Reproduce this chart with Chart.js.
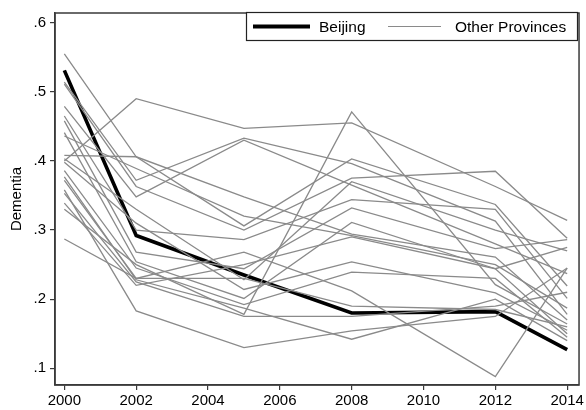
<!DOCTYPE html>
<html>
<head>
<meta charset="utf-8">
<script src="https://cdn.jsdelivr.net/npm/chart.js@4"></script>
<style>
  html, body { margin: 0; padding: 0; background: #fff; }
  #wrap { width: 586px; height: 410px; }
</style>
</head>
<body>
<div id="wrap"><canvas id="chart"></canvas></div>
<script>
// survey waves
const years = [2000, 2002, 2005, 2008, 2012, 2014];
const xTicks = [2000, 2002, 2004, 2006, 2008, 2010, 2012, 2014];
const yTicks = [0.1, 0.2, 0.3, 0.4, 0.5, 0.6];

const beijing = [0.531, 0.292, 0.235, 0.180, 0.182, 0.127];

// one row per province, values at each wave
const otherProvinces = [
  [0.400, 0.490, 0.447, 0.455, 0.363, 0.314],
  [0.330, 0.250, 0.178, 0.471, 0.221, 0.164],
  [0.372, 0.230, 0.268, 0.212, 0.088, 0.245],
  [0.555, 0.406, 0.306, 0.403, 0.337, 0.219],
  [0.514, 0.372, 0.433, 0.396, 0.313, 0.178],
  [0.511, 0.363, 0.300, 0.375, 0.385, 0.288],
  [0.479, 0.348, 0.430, 0.365, 0.280, 0.237],
  [0.465, 0.300, 0.286, 0.344, 0.330, 0.201],
  [0.458, 0.268, 0.244, 0.332, 0.273, 0.286],
  [0.441, 0.254, 0.201, 0.311, 0.244, 0.150],
  [0.408, 0.406, 0.348, 0.294, 0.261, 0.170],
  [0.436, 0.389, 0.320, 0.292, 0.250, 0.187],
  [0.403, 0.330, 0.228, 0.370, 0.300, 0.270],
  [0.398, 0.310, 0.214, 0.254, 0.209, 0.155],
  [0.386, 0.245, 0.192, 0.239, 0.230, 0.145],
  [0.377, 0.228, 0.187, 0.142, 0.200, 0.140],
  [0.287, 0.230, 0.230, 0.190, 0.185, 0.160],
  [0.353, 0.225, 0.175, 0.175, 0.190, 0.210],
  [0.339, 0.220, 0.250, 0.290, 0.244, 0.275],
  [0.358, 0.183, 0.130, 0.154, 0.175, 0.245],
];

const FONT = "'Liberation Sans', Arial, sans-serif";
const GREY = "#8a8a8a";
const FRAME = "#3a3a3a";

const toPoints = (vals) => vals.map((v, i) => ({ x: years[i], y: v }));

const datasets = otherProvinces.map((row) => ({
  label: "Other Provinces",
  data: toPoints(row),
  borderColor: GREY,
  borderWidth: 1.3,
  pointRadius: 0,
  tension: 0,
}));
datasets.push({
  label: "Beijing",
  data: toPoints(beijing),
  borderColor: "#000",
  borderWidth: 3.6,
  pointRadius: 0,
  tension: 0,
});

// frame round the plot region + Stata style legend box
const framePlugin = {
  id: "frame",
  beforeDraw(chart) {
    const c = chart.ctx;
    c.save();
    c.fillStyle = "#fff";
    c.fillRect(0, 0, chart.width, chart.height);
    c.restore();
  },
  afterDraw(chart) {
    const c = chart.ctx;
    const a = chart.chartArea;
    c.save();
    c.strokeStyle = FRAME;
    c.lineWidth = 1.5;
    c.strokeRect(a.left, a.top, a.right - a.left, a.bottom - a.top);

    // legend
    c.fillStyle = "#fff";
    c.fillRect(246.5, 12.5, 331, 28);
    c.strokeStyle = "#222";
    c.lineWidth = 1.2;
    c.strokeRect(246.5, 12.5, 331, 28);

    const ly = 26.5;
    c.beginPath();
    c.strokeStyle = "#000";
    c.lineWidth = 4;
    c.moveTo(253, ly);
    c.lineTo(310, ly);
    c.stroke();

    c.beginPath();
    c.strokeStyle = GREY;
    c.lineWidth = 1.2;
    c.moveTo(388, ly);
    c.lineTo(441, ly);
    c.stroke();

    c.fillStyle = "#000";
    c.font = "15.5px " + FONT;
    c.textBaseline = "middle";
    c.fillText("Beijing", 319, ly + 1);
    c.fillText("Other Provinces", 455, ly + 1);
    c.restore();
  },
};

new Chart(document.getElementById("chart"), {
  type: "line",
  data: { datasets },
  options: {
    responsive: true,
    maintainAspectRatio: false,
    animation: false,
    layout: { padding: { top: 7, right: 6, left: 0, bottom: 0 } },
    plugins: { legend: { display: false }, tooltip: { enabled: false } },
    scales: {
      x: {
        type: "linear",
        min: 1999.74,
        max: 2014.33,
        afterBuildTicks: (s) => { s.ticks = xTicks.map((v) => ({ value: v })); },
        afterFit: (s) => { s.height = 25; },
        grid: { drawOnChartArea: false, drawTicks: true, tickLength: 5, color: FRAME, lineWidth: 1.2 },
        border: { display: true, color: FRAME, width: 1.5 },
        ticks: {
          color: "#000",
          font: { family: FONT, size: 15 },
          padding: 2,
          maxRotation: 0,
          autoSkip: false,
          callback: (v) => String(v),
        },
      },
      y: {
        min: 0.0758,
        max: 0.614,
        afterBuildTicks: (s) => { s.ticks = yTicks.map((v) => ({ value: v })); },
        afterFit: (s) => { s.width = 55; },
        grid: { drawOnChartArea: false, drawTicks: true, tickLength: 5, color: FRAME, lineWidth: 1.2 },
        border: { display: true, color: FRAME, width: 1.5 },
        ticks: {
          color: "#000",
          font: { family: FONT, size: 15 },
          padding: 4,
          callback: (v) => v.toFixed(1).replace(/^0/, ""),
        },
        title: {
          display: true,
          text: "Dementia",
          color: "#000",
          font: { family: FONT, size: 15 },
          padding: { top: 8, bottom: 0 },
        },
      },
    },
  },
  plugins: [framePlugin],
});
</script>
</body>
</html>
